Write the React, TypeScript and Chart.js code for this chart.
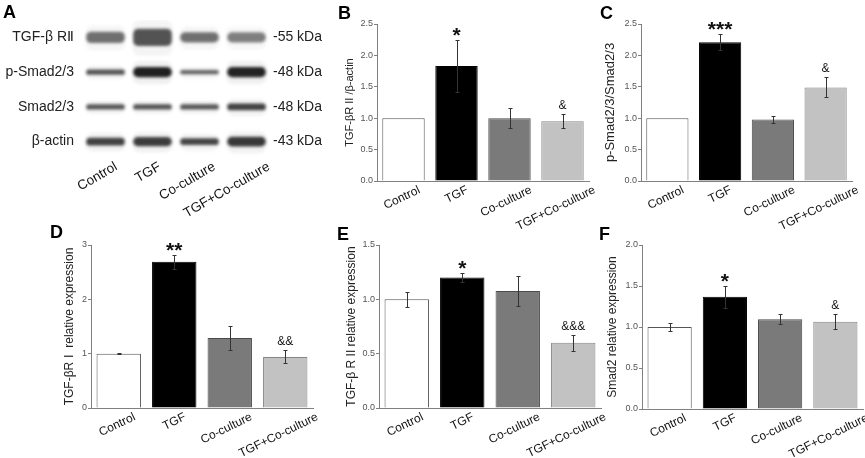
import React, { useEffect, useRef } from "react";
import { Chart, registerables } from "chart.js";

Chart.register(...registerables);
Chart.defaults.font.family = "'Liberation Sans', Arial, Helvetica, sans-serif";

// ---------- data ----------
const groups = ["Control", "TGF", "Co-culture", "TGF+Co-culture"];

// B: TGF-βRII / β-actin
const tgfbr2Ratio = [1.0, 1.83, 1.0, 0.95];
const tgfbr2RatioErr = [0, 0.42, 0.16, 0.11];
const tgfbr2RatioMarks = ["", "*", "", "&"];

// C: p-Smad2/3 / Smad2/3
const pSmadRatio = [1.0, 2.21, 0.98, 1.49];
const pSmadRatioErr = [0, 0.13, 0.05, 0.16];
const pSmadRatioMarks = ["", "***", "", "&"];

// D: TGF-βRI relative expression
const tgfbr1Expr = [1.0, 2.69, 1.29, 0.94];
const tgfbr1Err = [0.01, 0.135, 0.215, 0.12];
const tgfbr1Marks = ["", "**", "", "&&"];

// E: TGF-βRII relative expression
const tgfbr2Expr = [1.0, 1.2, 1.077, 0.6];
const tgfbr2Err = [0.07, 0.045, 0.135, 0.075];
const tgfbr2Marks = ["", "*", "", "&&&"];

// F: Smad2 relative expression
const smad2Expr = [1.0, 1.37, 1.095, 1.065];
const smad2Err = [0.05, 0.135, 0.06, 0.09];
const smad2Marks = ["", "*", "", "&"];

// A: western blot (band density 0..1 and band thickness in row units)
const blotRows = ["TGF-β RⅡ", "p-Smad2/3", "Smad2/3", "β-actin"];
const blotKDa = ["-55 kDa", "-48 kDa", "-48 kDa", "-43 kDa"];
const densTgfbr2 = [0.55, 0.69, 0.55, 0.48];
const thickTgfbr2 = [0.33, 0.5, 0.3, 0.3];
const densPSmad = [0.69, 0.95, 0.62, 0.94];
const thickPSmad = [0.15, 0.3, 0.12, 0.3];
const densSmad = [0.67, 0.69, 0.67, 0.78];
const thickSmad = [0.15, 0.15, 0.15, 0.2];
const densActin = [0.78, 0.8, 0.76, 0.83];
const thickActin = [0.23, 0.26, 0.2, 0.28];

// ---------- styles ----------
const FONT = "'Liberation Sans', Arial, Helvetica, sans-serif";
const barFill = ["#ffffff", "#000000", "#7a7a7a", "#c2c2c2"];
const barEdge = ["#555555", "#000000", "#4a4a4a", "#858585"];

function drawRotatedLabels(chart: any, labels: string[], opts: any) {
  const ctx = chart.ctx;
  const x = chart.scales.x;
  const th = (opts.angle * Math.PI) / 180;
  ctx.save();
  ctx.font = `${opts.size}px ${FONT}`;
  ctx.fillStyle = "#111";
  ctx.textAlign = "right";
  ctx.textBaseline = "top";
  labels.forEach((lab, i) => {
    const L = ctx.measureText(lab).width;
    const ax = x.getPixelForValue(i) + opts.frac * L * Math.cos(th) + opts.add;
    const ay = chart.chartArea.bottom + opts.dy;
    ctx.save();
    ctx.translate(ax, ay);
    ctx.rotate(-th);
    ctx.fillText(lab, 0, 0);
    ctx.restore();
  });
  ctx.restore();
}

function barExtras(errs: number[], marks: string[]) {
  return {
    id: "barExtras",
    afterDatasetsDraw(chart: any) {
      const ctx = chart.ctx;
      const x = chart.scales.x;
      const y = chart.scales.y;
      const vals = chart.data.datasets[0].data as number[];
      ctx.save();
      ctx.strokeStyle = "#333";
      ctx.lineWidth = 1;
      vals.forEach((v, i) => {
        const e = errs[i];
        if (!e) return;
        const px = Math.round(x.getPixelForValue(i)) + 0.5;
        const top = Math.round(y.getPixelForValue(v + e)) + 0.5;
        const bot = Math.round(y.getPixelForValue(v - e)) + 0.5;
        ctx.beginPath();
        ctx.moveTo(px, top);
        ctx.lineTo(px, bot);
        ctx.moveTo(px - 2, top);
        ctx.lineTo(px + 2, top);
        ctx.moveTo(px - 2, bot);
        ctx.lineTo(px + 2, bot);
        ctx.stroke();
      });
      ctx.fillStyle = "#111";
      ctx.textAlign = "center";
      ctx.textBaseline = "alphabetic";
      vals.forEach((v, i) => {
        const m = marks[i];
        if (!m) return;
        const px = x.getPixelForValue(i);
        const top = y.getPixelForValue(v + errs[i]);
        if (m.startsWith("*")) {
          ctx.font = `bold 21px ${FONT}`;
          ctx.fillText(m, px, top + 2);
        } else {
          ctx.font = `12px ${FONT}`;
          ctx.fillText(m, px, top - 5);
        }
      });
      ctx.restore();
      drawRotatedLabels(chart, chart.data.labels, { angle: 26, size: 12, frac: 0.38, add: 0, dy: 3 });
    },
  };
}

function barConfig(p: any) {
  return {
    type: "bar",
    data: {
      labels: groups,
      datasets: [
        {
          data: p.values,
          backgroundColor: barFill,
          borderColor: barEdge,
          borderWidth: 1,
          barPercentage: 0.8,
          categoryPercentage: 1,
        },
      ],
    },
    options: {
      animation: false,
      responsive: false,
      events: [],
      layout: { padding: { top: p.padTop, right: p.padRight, left: 0, bottom: 0 } },
      plugins: { legend: { display: false }, tooltip: { enabled: false } },
      scales: {
        x: {
          ticks: { display: false },
          grid: { display: false, drawTicks: false },
          border: { display: true, color: "#808080", width: 1 },
          afterFit: (s: any) => {
            s.height = p.xh;
          },
        },
        y: {
          min: 0,
          max: p.max,
          ticks: {
            stepSize: p.step,
            callback: (v: any) => (p.step < 1 ? Number(v).toFixed(1) : String(v)),
            font: { size: 9 },
            color: "#555",
            padding: 1,
          },
          grid: { display: true, drawOnChartArea: false, drawTicks: true, tickLength: 3, color: "#808080" },
          border: { display: true, color: "#808080", width: 1 },
          title: {
            display: true,
            text: p.title,
            font: { size: p.titleSize, lineHeight: 1 },
            padding: 0,
            color: "#222",
          },
          afterFit: (s: any) => {
            s.width = p.yw;
          },
        },
      },
    },
    plugins: [barExtras(p.errs, p.marks)],
  };
}

function grayOf(d: number) {
  const g = Math.round(235 - 225 * d);
  return `rgb(${g},${g},${g})`;
}

function blotConfig() {
  const dens = [densTgfbr2, densPSmad, densSmad, densActin];
  const thick = [thickTgfbr2, thickPSmad, thickSmad, thickActin];
  const datasets: any[] = [];
  dens.forEach((row, r) => {
    datasets.push({
      data: row.map((d, i) => [r + 0.5 - thick[r][i] * 0.9 - 0.05, r + 0.5 + thick[r][i] * 0.9 + 0.08]),
      backgroundColor: row.map((d) => `rgba(120,120,120,${0.12 * d})`),
      borderWidth: 0,
      borderRadius: 8,
      borderSkipped: false,
      barPercentage: 0.86,
      categoryPercentage: 1,
      grouped: false,
    });
    datasets.push({
      data: row.map((d, i) => [r + 0.5 - thick[r][i] / 2, r + 0.5 + thick[r][i] / 2]),
      backgroundColor: row.map((d) => grayOf(d)),
      borderWidth: 0,
      borderRadius: 5,
      borderSkipped: false,
      barPercentage: 0.82,
      categoryPercentage: 1,
      grouped: false,
    });
  });
  return {
    type: "bar",
    data: { labels: groups, datasets },
    options: {
      animation: false,
      responsive: false,
      events: [],
      layout: { padding: { top: 20, right: 0, left: 0, bottom: 0 } },
      plugins: { legend: { display: false }, tooltip: { enabled: false } },
      scales: {
        x: {
          ticks: { display: false },
          grid: { display: false, drawTicks: false },
          border: { display: false },
          afterFit: (s: any) => {
            s.height = 67;
          },
        },
        y: {
          type: "linear",
          position: "left",
          min: 0,
          max: 4,
          reverse: true,
          afterBuildTicks: (s: any) => {
            s.ticks = blotRows.map((_, i) => ({ value: i + 0.5 }));
          },
          ticks: {
            callback: (_v: any, i: number) => blotRows[i],
            font: { size: 14 },
            color: "#222",
            padding: 8,
            autoSkip: false,
          },
          grid: { display: false, drawTicks: false },
          border: { display: false },
          afterFit: (s: any) => {
            s.width = 82;
          },
        },
        y2: {
          type: "linear",
          position: "right",
          min: 0,
          max: 4,
          reverse: true,
          afterBuildTicks: (s: any) => {
            s.ticks = blotKDa.map((_, i) => ({ value: i + 0.5 }));
          },
          ticks: {
            callback: (_v: any, i: number) => blotKDa[i],
            font: { size: 14 },
            color: "#222",
            padding: 3,
            autoSkip: false,
          },
          grid: { display: false, drawTicks: false },
          border: { display: false },
          afterFit: (s: any) => {
            s.width = 60;
          },
        },
      },
    },
    plugins: [
      {
        id: "blur",
        beforeDatasetsDraw(chart: any) {
          chart.ctx.save();
          chart.ctx.filter = "blur(1.8px)";
        },
        afterDatasetsDraw(chart: any) {
          chart.ctx.filter = "none";
          chart.ctx.restore();
          drawRotatedLabels(chart, groups, { angle: 30, size: 13.5, frac: 0.25, add: -2, dy: 1 });
        },
      },
    ],
  };
}

function ChartBox({ left, top, width, height, make }: any) {
  const ref = useRef<HTMLCanvasElement>(null);
  useEffect(() => {
    const chart = new Chart(ref.current as HTMLCanvasElement, make());
    return () => chart.destroy();
  }, []);
  return (
    <div style={{ position: "absolute", left, top, width, height }}>
      <canvas ref={ref} width={width} height={height} style={{ display: "block" }} />
    </div>
  );
}

const panels = [
  { key: "B", left: 344, top: 0, width: 259, height: 231, padTop: 24, padRight: 14, yw: 33, xh: 50, max: 2.5, step: 0.5, title: "TGF-βR II /β-actin", titleSize: 11, values: tgfbr2Ratio, errs: tgfbr2RatioErr, marks: tgfbr2RatioMarks },
  { key: "C", left: 604, top: 0, width: 258, height: 231, padTop: 24, padRight: 10, yw: 37, xh: 50, max: 2.5, step: 0.5, title: "p-Smad2/3/Smad2/3", titleSize: 13, values: pSmadRatio, errs: pSmadRatioErr, marks: pSmadRatioMarks },
  { key: "D", left: 64, top: 232, width: 263, height: 226, padTop: 13, padRight: 14, yw: 27, xh: 50, max: 3, step: 1, title: "TGF-βR Ⅰ  relative expression", titleSize: 12, values: tgfbr1Expr, errs: tgfbr1Err, marks: tgfbr1Marks },
  { key: "E", left: 346, top: 232, width: 269, height: 226, padTop: 13, padRight: 14, yw: 33, xh: 50, max: 1.5, step: 0.5, title: "TGF-β R II relative expression", titleSize: 12, values: tgfbr2Expr, errs: tgfbr2Err, marks: tgfbr2Marks },
  { key: "F", left: 607, top: 232, width: 258, height: 226, padTop: 13, padRight: 2, yw: 35, xh: 49, max: 2, step: 0.5, title: "Smad2 relative expression", titleSize: 12, values: smad2Expr, errs: smad2Err, marks: smad2Marks },
];

const letters = [
  { t: "A", x: 3, y: 3 },
  { t: "B", x: 338, y: 4 },
  { t: "C", x: 600, y: 4 },
  { t: "D", x: 50, y: 223 },
  { t: "E", x: 337, y: 225 },
  { t: "F", x: 599, y: 225 },
];

export default function App() {
  return (
    <div
      style={{
        position: "absolute",
        left: 0,
        top: 0,
        width: 865,
        height: 458,
        background: "#fff",
        overflow: "hidden",
        fontFamily: FONT,
      }}
    >
      <ChartBox left={0} top={0} width={330} height={226} make={blotConfig} />
      {panels.map((p) => (
        <ChartBox key={p.key} left={p.left} top={p.top} width={p.width} height={p.height} make={() => barConfig(p)} />
      ))}
      {letters.map((l) => (
        <div
          key={l.t}
          style={{
            position: "absolute",
            left: l.x,
            top: l.y,
            fontSize: 18,
            fontWeight: "bold",
            lineHeight: 1,
            color: "#000",
          }}
        >
          {l.t}
        </div>
      ))}
    </div>
  );
}
